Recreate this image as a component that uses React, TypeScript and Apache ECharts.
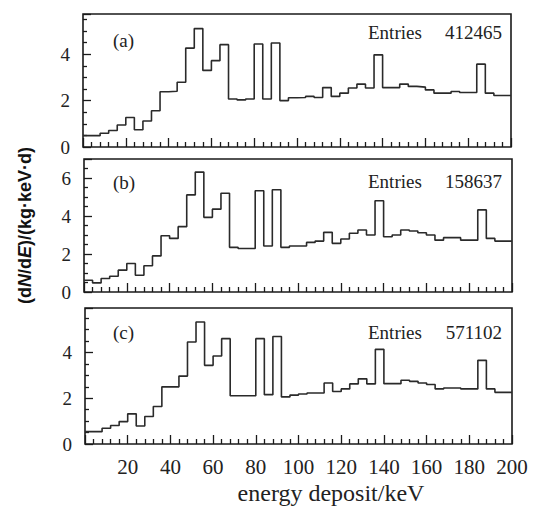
import React, { useEffect, useRef } from 'react';
import * as echarts from 'echarts';

// Lower edges of the 4 keV energy bins (keV)
const energyBinEdges = [
  0, 4, 8, 12, 16, 20, 24, 28, 32, 36, 40, 44, 48, 52, 56, 60, 64, 68, 72, 76,
  80, 84, 88, 92, 96, 100, 104, 108, 112, 116, 120, 124, 128, 132, 136, 140, 144, 148, 152, 156,
  160, 164, 168, 172, 176, 180, 184, 188, 192, 196,
];
const energyMax = 200;

// (dN/dE)/(kg·keV·d) per bin
const rateA = [
  0.49, 0.49, 0.59, 0.71, 0.95, 1.27, 0.74, 1.12, 1.56, 2.38, 2.40, 2.79, 4.26, 5.10, 3.30, 3.72, 4.41, 2.07, 2.03, 2.07,
  4.44, 2.07, 4.48, 2.00, 2.12, 2.13, 2.18, 2.13, 2.56, 2.18, 2.32, 2.54, 2.71, 2.54, 3.97, 2.56, 2.56, 2.71, 2.61, 2.58,
  2.46, 2.32, 2.32, 2.39, 2.35, 2.35, 3.57, 2.32, 2.22, 2.22,
];
const rateB = [
  0.62, 0.48, 0.71, 0.83, 1.15, 1.50, 0.88, 1.38, 1.90, 2.96, 2.82, 3.44, 5.11, 6.31, 3.93, 4.36, 5.20, 2.35, 2.29, 2.29,
  5.33, 2.42, 5.38, 2.35, 2.42, 2.42, 2.61, 2.68, 3.14, 2.56, 2.79, 3.09, 3.26, 3.00, 4.80, 2.91, 3.00, 3.26, 3.21, 3.12,
  3.00, 2.73, 2.86, 2.86, 2.73, 2.73, 4.32, 2.82, 2.68, 2.68,
];
const rateC = [
  0.54, 0.54, 0.69, 0.81, 0.98, 1.32, 0.79, 1.20, 1.64, 2.50, 2.50, 2.97, 4.46, 5.34, 3.44, 3.85, 4.61, 2.11, 2.11, 2.11,
  4.61, 2.16, 4.70, 2.06, 2.14, 2.19, 2.23, 2.23, 2.67, 2.30, 2.41, 2.63, 2.85, 2.63, 4.14, 2.64, 2.64, 2.79, 2.74, 2.67,
  2.60, 2.41, 2.45, 2.45, 2.41, 2.41, 3.66, 2.41, 2.26, 2.26,
];

const panelLabels = ['(a)', '(b)', '(c)'];
const panelEntries = ['412465', '158637', '571102'];
const panelYMax = [5.73, 7, 5.95];
const panelRates = [rateA, rateB, rateC];

const xTitle = 'energy deposit/keV';
const yTitleRich = '{p|(d}{i|N}{p|/d}{i|E}{p|)/(kg·keV·d)}';

// layout (pixels)
const GRIDS = [
  { left: 83, top: 14, width: 428, height: 133 },
  { left: 84, top: 159, width: 428, height: 133 },
  { left: 85, top: 308, width: 427, height: 136 },
];
const LABEL_TOP = [31, 172.5, 322.5];
const ENTRIES_TOP = [23, 171.5, 322.5];

const SERIF = "'Liberation Serif', 'Times New Roman', serif";
const SANS = "'Liberation Sans', Arial, sans-serif";
const INK = '#222';
const TICK = '#1a1a1a';

export default function App() {
  const ref = useRef<HTMLDivElement>(null);

  useEffect(() => {
    if (!ref.current) return;
    const chart = echarts.init(ref.current, undefined, { renderer: 'svg' });

    const grid = GRIDS.map((g) => ({
      ...g,
      show: true,
      borderColor: '#1a1a1a',
      borderWidth: 1.6,
    }));

    const xAxis = GRIDS.map((_, i) => ({
      type: 'value',
      gridIndex: i,
      min: 0,
      max: energyMax,
      interval: 20,
      axisLine: { show: false },
      axisTick: { show: true, inside: true, length: 9, lineStyle: { color: TICK, width: 1.3 } },
      minorTick: { show: true, splitNumber: 5, length: 5, lineStyle: { color: TICK, width: 1.3 } },
      splitLine: { show: false },
      axisLabel: {
        show: i === 2,
        showMinLabel: false,
        margin: 12,
        fontFamily: SERIF,
        fontSize: 21,
        color: INK,
      },
      name: i === 2 ? xTitle : '',
      nameLocation: 'middle',
      nameGap: 37,
      nameTextStyle: {
        fontFamily: SERIF,
        fontSize: 24,
        color: INK,
        padding: [0, 0, 0, 65],
      },
    }));

    const yAxis = GRIDS.map((_, i) => ({
      type: 'value',
      gridIndex: i,
      min: 0,
      max: panelYMax[i],
      interval: 2,
      axisLine: { show: false },
      axisTick: { show: true, inside: true, length: 8, lineStyle: { color: TICK, width: 1.3 } },
      minorTick: { show: true, splitNumber: 4, length: 4, lineStyle: { color: TICK, width: 1.3 } },
      splitLine: { show: false },
      axisLabel: {
        showMaxLabel: false,
        margin: 13,
        fontFamily: SERIF,
        fontSize: 19,
        color: INK,
      },
      name: i === 1 ? yTitleRich : '',
      nameLocation: 'middle',
      nameRotate: 90,
      nameGap: 50,
      nameTextStyle: {
        color: '#111',
        rich: {
          p: { fontFamily: SANS, fontSize: 18, fontWeight: 'bold', color: '#111' },
          i: { fontFamily: SANS, fontSize: 18, fontWeight: 'bold', fontStyle: 'italic', color: '#111' },
        },
      },
    }));

    const series: any[] = panelRates.map((rates, i) => ({
      type: 'line',
      xAxisIndex: i,
      yAxisIndex: i,
      step: 'end',
      symbol: 'none',
      silent: true,
      lineStyle: { color: '#2a2a2a', width: 1.6 },
      data: [...energyBinEdges.map((e, k) => [e, rates[k]]), [energyMax, rates[rates.length - 1]]],
    }));

    const textStyle = { fontFamily: SERIF, fontSize: 19, fontWeight: 'normal', color: INK };
    const title: any[] = [];
    GRIDS.forEach((_, i) => {
      title.push({ text: panelLabels[i], left: 113, top: LABEL_TOP[i], padding: 0, textStyle });
      title.push({ text: 'Entries', left: 368, top: ENTRIES_TOP[i], padding: 0, textStyle });
      title.push({ text: panelEntries[i], right: 35, top: ENTRIES_TOP[i], padding: 0, textStyle });
    });

    chart.setOption({
      animation: false,
      title,
      grid,
      xAxis,
      yAxis,
      series,
    });

    return () => chart.dispose();
  }, []);

  return (
    <div
      ref={ref}
      style={{ position: 'fixed', left: 0, top: 0, width: 537, height: 506, background: '#ffffff' }}
    />
  );
}
